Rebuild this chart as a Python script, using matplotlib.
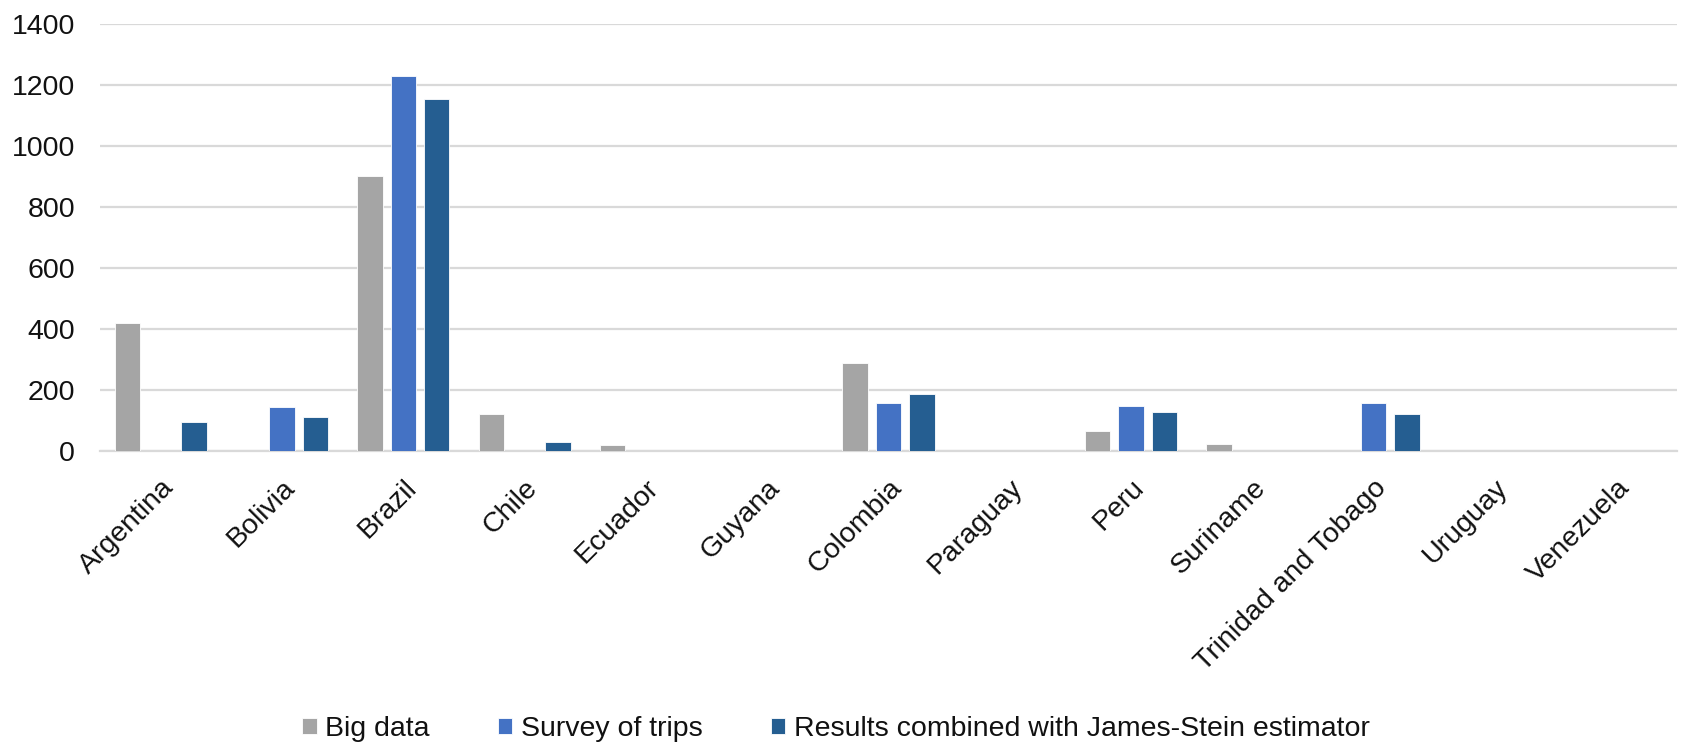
import matplotlib.pyplot as plt
import numpy as np

plt.rcParams['font.family'] = ['Liberation Sans', 'DejaVu Sans']

countries = ["Argentina", "Bolivia", "Brazil", "Chile", "Ecuador", "Guyana",
             "Colombia", "Paraguay", "Peru", "Suriname", "Trinidad and Tobago",
             "Uruguay", "Venezuela"]
big_data = [420, 0, 903, 120, 20, 0, 289, 0, 66, 24, 0, 0, 0]
survey = [0, 145, 1230, 0, 0, 0, 158, 0, 147, 0, 158, 0, 0]
james_stein = [95, 112, 1154, 28, 0, 0, 188, 0, 129, 0, 120, 0, 0]

series = [
    ("Big data", big_data, "#a5a5a5"),
    ("Survey of trips", survey, "#4472c4"),
    ("Results combined with James-Stein estimator", james_stein, "#255e91"),
]

fig = plt.figure(figsize=(16.82, 7.45), dpi=100)
ax = fig.add_axes([0.0595, 0.3946, 0.9375, 0.5728])

x = np.arange(len(countries))
width = 0.209
step = 0.275
for i, (name, vals, color) in enumerate(series):
    ax.bar(x + (i - 1) * step, vals, width, color=color, label=name,
           edgecolor="white", linewidth=0.6, zorder=3)

ax.set_xlim(-0.5, len(countries) - 0.5)
ax.set_ylim(0, 1400)
ax.set_yticks(np.arange(0, 1401, 200))
ax.grid(axis="y", color="#d9d9d9", linewidth=1.6, zorder=0)
for side in ["top", "right", "left"]:
    ax.spines[side].set_visible(False)
ax.spines["bottom"].set_color("#d9d9d9")
ax.spines["bottom"].set_linewidth(1.6)

ax.set_xticks(x)
ax.set_xticklabels(countries, rotation=45, ha="right", rotation_mode="anchor")
ax.tick_params(axis="both", length=0, labelsize=20.5, colors="#111111")
ax.tick_params(axis="y", pad=18)
ax.tick_params(axis="x", pad=17)

fig.legend(loc="center", bbox_to_anchor=(0.497, 0.021), ncol=3, frameon=False,
           fontsize=20.5, handlelength=0.5, handleheight=0.5, handletextpad=0.3,
           columnspacing=2.4, labelcolor="#111111")

fig.savefig("out.png", dpi=100)
